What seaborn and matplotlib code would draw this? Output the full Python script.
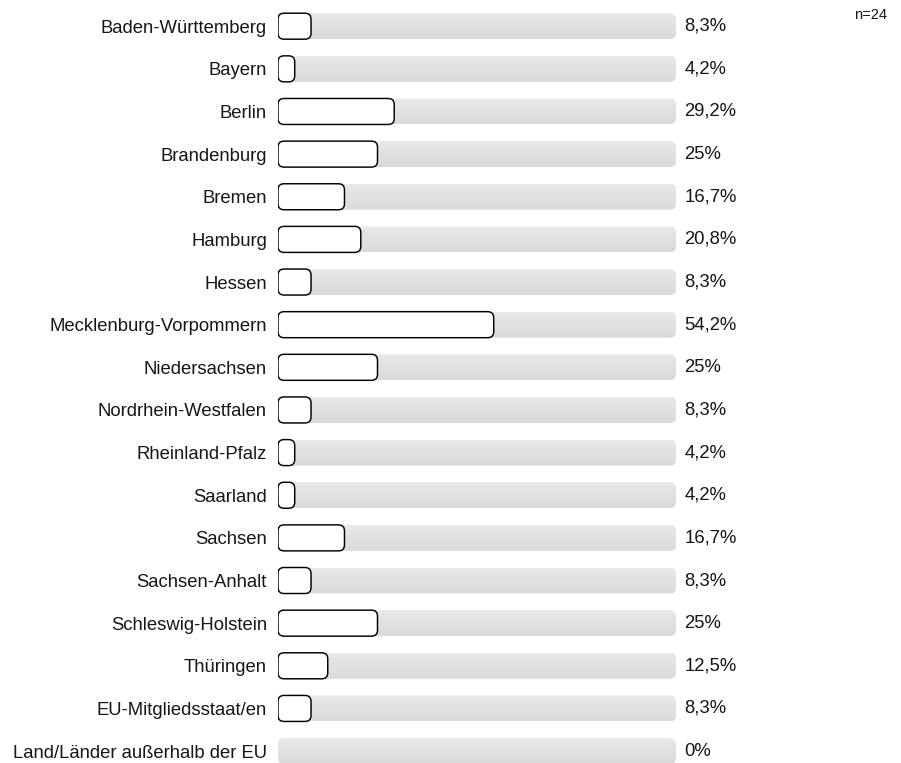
import numpy as np
import pandas as pd
import matplotlib
matplotlib.use("Agg")
import matplotlib.pyplot as plt
import seaborn as sns
from matplotlib.patches import FancyBboxPatch
from matplotlib.colors import LinearSegmentedColormap

# Answers per federal state (share of respondents, %)
categories = [
    "Baden-Württemberg", "Bayern", "Berlin", "Brandenburg", "Bremen",
    "Hamburg", "Hessen", "Mecklenburg-Vorpommern", "Niedersachsen",
    "Nordrhein-Westfalen", "Rheinland-Pfalz", "Saarland", "Sachsen",
    "Sachsen-Anhalt", "Schleswig-Holstein", "Thüringen",
    "EU-Mitgliedsstaat/en", "Land/Länder außerhalb der EU",
]
shares = [8.3, 4.2, 29.2, 25, 16.7, 20.8, 8.3, 54.2, 25, 8.3,
          4.2, 4.2, 16.7, 8.3, 25, 12.5, 8.3, 0]
value_labels = ["8,3%", "4,2%", "29,2%", "25%", "16,7%", "20,8%", "8,3%",
                "54,2%", "25%", "8,3%", "4,2%", "4,2%", "16,7%", "8,3%",
                "25%", "12,5%", "8,3%", "0%"]
full_scale = [100] * len(categories)
sample_note = "n=24"

df = pd.DataFrame({"category": categories, "share": shares, "scale": full_scale})

W, H = 901, 763
sns.set_theme(style="white")
plt.rcParams["font.family"] = ["Liberation Sans", "DejaVu Sans"]

fig = plt.figure(figsize=(W / 100, H / 100), dpi=100)

# plot area: 0..100 % spans 398 px, rows are 42.64 px apart
track_left, track_px = 278, 398
row_px, row0_px = 42.64, 26.2
ax = fig.add_axes([track_left / W, 0, track_px / W, 1])

bar_h = 26 / row_px
sns.barplot(data=df, x="scale", y="category", order=categories, orient="h",
            color="#e0e0e0", width=bar_h, errorbar=None, ax=ax)
sns.barplot(data=df, x="share", y="category", order=categories, orient="h",
            color="white", width=bar_h, errorbar=None, ax=ax)
track_bars, share_bars = ax.containers[0], ax.containers[1]

px_x = track_px / 100.0
aspect = px_x / row_px
grad = LinearSegmentedColormap.from_list("track", ["#e9e9e9", "#dadada"])
text_color = "#161616"


def rounded(p, radius_px, **kw):
    x, y, w, h = p.get_x(), p.get_y(), p.get_width(), p.get_height()
    r = min(radius_px, w * px_x / 2, h * row_px / 2)
    fb = FancyBboxPatch((x, y), w, h,
                        boxstyle=f"round,pad=0,rounding_size={r / px_x}",
                        mutation_aspect=aspect, **kw)
    ax.add_patch(fb)
    return fb


# grey background tracks with a soft vertical gradient
for p in track_bars:
    p.set_visible(False)
    fb = rounded(p, 6, facecolor="none", edgecolor="none", zorder=1)
    x, y, w, h = p.get_x(), p.get_y(), p.get_width(), p.get_height()
    im = ax.imshow(np.linspace(0, 1, 50).reshape(-1, 1), cmap=grad,
                   extent=(x, x + w, y + h, y), aspect="auto", zorder=1,
                   interpolation="bilinear")
    im.set_clip_path(fb)

# white outlined answer bars
for p in share_bars:
    p.set_visible(False)
    if p.get_width() > 0:
        rounded(p, 6, facecolor="white", edgecolor="black",
                linewidth=1.05, zorder=3)

ax.bar_label(track_bars, labels=value_labels, padding=6, fontsize=13.3,
             color=text_color)

ax.set_xlim(0, 100)
ax.set_ylim((H - row0_px) / row_px, -row0_px / row_px)
ax.set_xlabel("")
ax.set_ylabel("")
ax.set_xticks([])
ax.tick_params(axis="y", length=0, pad=8, labelsize=13.3, labelcolor=text_color)
for s in ax.spines.values():
    s.set_visible(False)
ax.patch.set_alpha(0)

fig.text(887 / W, 1 - 15 / H, sample_note, ha="right", va="center",
         fontsize=10.5, color=text_color)

fig.savefig("out.png", dpi=100)
